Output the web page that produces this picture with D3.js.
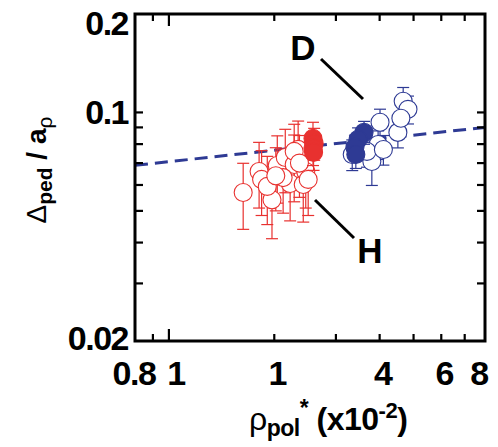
<!DOCTYPE html>
<html><head><meta charset="utf-8">
<script src="https://cdn.jsdelivr.net/npm/d3@7"></script>
<style>
body{margin:0;background:#fff;}
text{font-family:"Liberation Sans",Arial,sans-serif;}
</style></head>
<body><svg id="c" width="498" height="447"></svg>
<script>
// ---- data (x in units of 1e-2) ----
const hOpenX = [1.63,1.81,1.84,1.97,2.04,2.15,2.22,2.28,2.42,2.46,2.34,2.12,1.91,2.50,2.28,2.02,2.36];
const hOpenY = [0.0569,0.0660,0.0624,0.0541,0.0688,0.0728,0.0606,0.0693,0.0602,0.0660,0.0771,0.0632,0.0594,0.0624,0.0760,0.0640,0.0700];
const hOpenErr = [0.013,0.015,0.014,0.013,0.016,0.016,0.014,0.016,0.014,0.015,0.017,0.014,0.014,0.014,0.016,0.014,0.015];
const hFullX = [2.58,2.60,2.58,2.59];
const hFullY = [0.0833,0.0804,0.0778,0.0755];
const hFullErr = [0.010,0.009,0.009,0.009];
const dOpenX = [4.67,4.82,4.01,4.51,3.96,3.80,3.68,3.34,4.10,4.60];
const dOpenY = [0.1082,0.1022,0.0933,0.0869,0.0798,0.0708,0.0760,0.0744,0.0770,0.0960];
const dOpenErr = [0.011,0.010,0.009,0.009,0.008,0.011,0.008,0.008,0.008,0.009];
const dFullX = [3.61,3.47,3.40,3.42];
const dFullY = [0.0869,0.0827,0.0782,0.0744];
const dFullErr = [0.007,0.007,0.007,0.007];
const fitX = [0.8, 8];
const fitY = [0.0689, 0.0900];
const xTickVals = [0.8,1,2,4,6,8];
const xTickLabels = ["0.8","1","1","4","6","8"];
const xMinor = [0.9,1,2,3,4,5,6,7];
const yTickVals = [0.2,0.1,0.02];
const yTickLabels = ["0.2","0.1","0.02"];
const yMinor = [0.03,0.04,0.05,0.06,0.07,0.08,0.09,0.1];

const red = "#E8312F", blue = "#2E3A94";
const svg = d3.select("#c");
const L=135, R=485, T=14, B=341;
const x = d3.scaleLog().domain([0.8,8]).range([L,R]);
const y = d3.scaleLog().domain([0.02,0.2]).range([B,T]);

svg.append("clipPath").attr("id","cp").append("rect")
  .attr("x",L).attr("y",T).attr("width",R-L).attr("height",B-T);

// fit line
svg.append("line").attr("clip-path","url(#cp)")
  .attr("x1",x(fitX[0])).attr("y1",y(fitY[0])).attr("x2",x(fitX[1])).attr("y2",y(fitY[1]))
  .attr("stroke",blue).attr("stroke-width",3).attr("stroke-dasharray","13,7");

function group(xs,ys,errs,color,filled){
  const g = svg.append("g");
  const d = xs.map((v,i)=>({x:v,y:ys[i],e:errs[i]}));
  const cap=6;
  d.forEach(p=>{
    const cx=x(p.x), y1=y(p.y+p.e), y2=y(p.y-p.e);
    g.append("line").attr("x1",cx).attr("x2",cx).attr("y1",y1).attr("y2",y2).attr("stroke",color).attr("stroke-width",1.2);
    g.append("line").attr("x1",cx-cap).attr("x2",cx+cap).attr("y1",y1).attr("y2",y1).attr("stroke",color).attr("stroke-width",1.2);
    g.append("line").attr("x1",cx-cap).attr("x2",cx+cap).attr("y1",y2).attr("y2",y2).attr("stroke",color).attr("stroke-width",1.2);
  });
  g.selectAll("circle").data(d).join("circle")
    .attr("cx",p=>x(p.x)).attr("cy",p=>y(p.y)).attr("r",9)
    .attr("fill",filled?color:"#fff").attr("stroke",color).attr("stroke-width",1.1);
}
group(hOpenX,hOpenY,hOpenErr,red,false);
group(dOpenX,dOpenY,dOpenErr,blue,false);
group(hFullX,hFullY,hFullErr,red,true);
group(dFullX,dFullY,dFullErr,blue,true);

// ticks
const tk = svg.append("g").attr("stroke","#000").attr("stroke-width",2.2);
xMinor.forEach(v=>{
  const len = v===1?12:7;
  tk.append("line").attr("x1",x(v)).attr("x2",x(v)).attr("y1",B).attr("y2",B-len);
  tk.append("line").attr("x1",x(v)).attr("x2",x(v)).attr("y1",T).attr("y2",T+len);
});
yMinor.forEach(v=>{
  const len = 8;
  tk.append("line").attr("x1",L).attr("x2",L+len).attr("y1",y(v)).attr("y2",y(v));
  tk.append("line").attr("x1",R).attr("x2",R-len).attr("y1",y(v)).attr("y2",y(v));
});
svg.append("rect").attr("x",L).attr("y",T).attr("width",R-L).attr("height",B-T)
  .attr("fill","none").attr("stroke","#000").attr("stroke-width",3);

// tick labels
const fs=34;
const xOff = [-1,7,3,3,3,-6];
xTickVals.forEach((v,i)=>{
  svg.append("text").attr("x",x(v)+xOff[i]).attr("y",385)
    .attr("text-anchor","middle").attr("font-size",fs).attr("font-weight","bold")
    .attr("letter-spacing",-1.5).text(xTickLabels[i]);
});
yTickVals.forEach((v,i)=>{
  const by = Math.min(350, Math.max(35, y(v)+12));
  svg.append("text").attr("x",128).attr("y",by).attr("text-anchor","end")
    .attr("font-size",fs).attr("font-weight","bold").attr("letter-spacing",-1.5).text(yTickLabels[i]);
});

// annotations
svg.append("text").attr("x",303).attr("y",60).attr("text-anchor","middle").attr("font-size",35).attr("font-weight","bold").text("D");
svg.append("line").attr("x1",321).attr("y1",59).attr("x2",363).attr("y2",99).attr("stroke","#000").attr("stroke-width",3);
svg.append("text").attr("x",370).attr("y",263).attr("text-anchor","middle").attr("font-size",35).attr("font-weight","bold").text("H");
svg.append("line").attr("x1",315).attr("y1",200).attr("x2",354).attr("y2",238).attr("stroke","#000").attr("stroke-width",3);

// x title
const xt = svg.append("text").attr("x",249).attr("y",430).attr("font-size",32).attr("font-weight","bold").attr("letter-spacing",-0.5);
xt.append("tspan").attr("font-weight","normal").text("ρ");
xt.append("tspan").attr("font-size",23).attr("dy",6).text("pol");
xt.append("tspan").attr("font-size",23).attr("dy",-20).text("*");
xt.append("tspan").attr("dy",14).text(" (x10");
xt.append("tspan").attr("font-size",22).attr("dy",-12).text("-2");
xt.append("tspan").attr("dy",12).text(")");

// y title
const yt = svg.append("text").attr("transform","translate(46,170) rotate(-90)").attr("text-anchor","middle")
  .attr("font-size",28).attr("font-weight","bold");
yt.append("tspan").attr("font-weight","normal").text("Δ");
yt.append("tspan").attr("font-size",21).attr("dy",6).text("ped");
yt.append("tspan").attr("dy",-6).text("  / a");
yt.append("tspan").attr("font-size",21).attr("font-weight","normal").attr("dy",6).text("ρ");
</script></body></html>
